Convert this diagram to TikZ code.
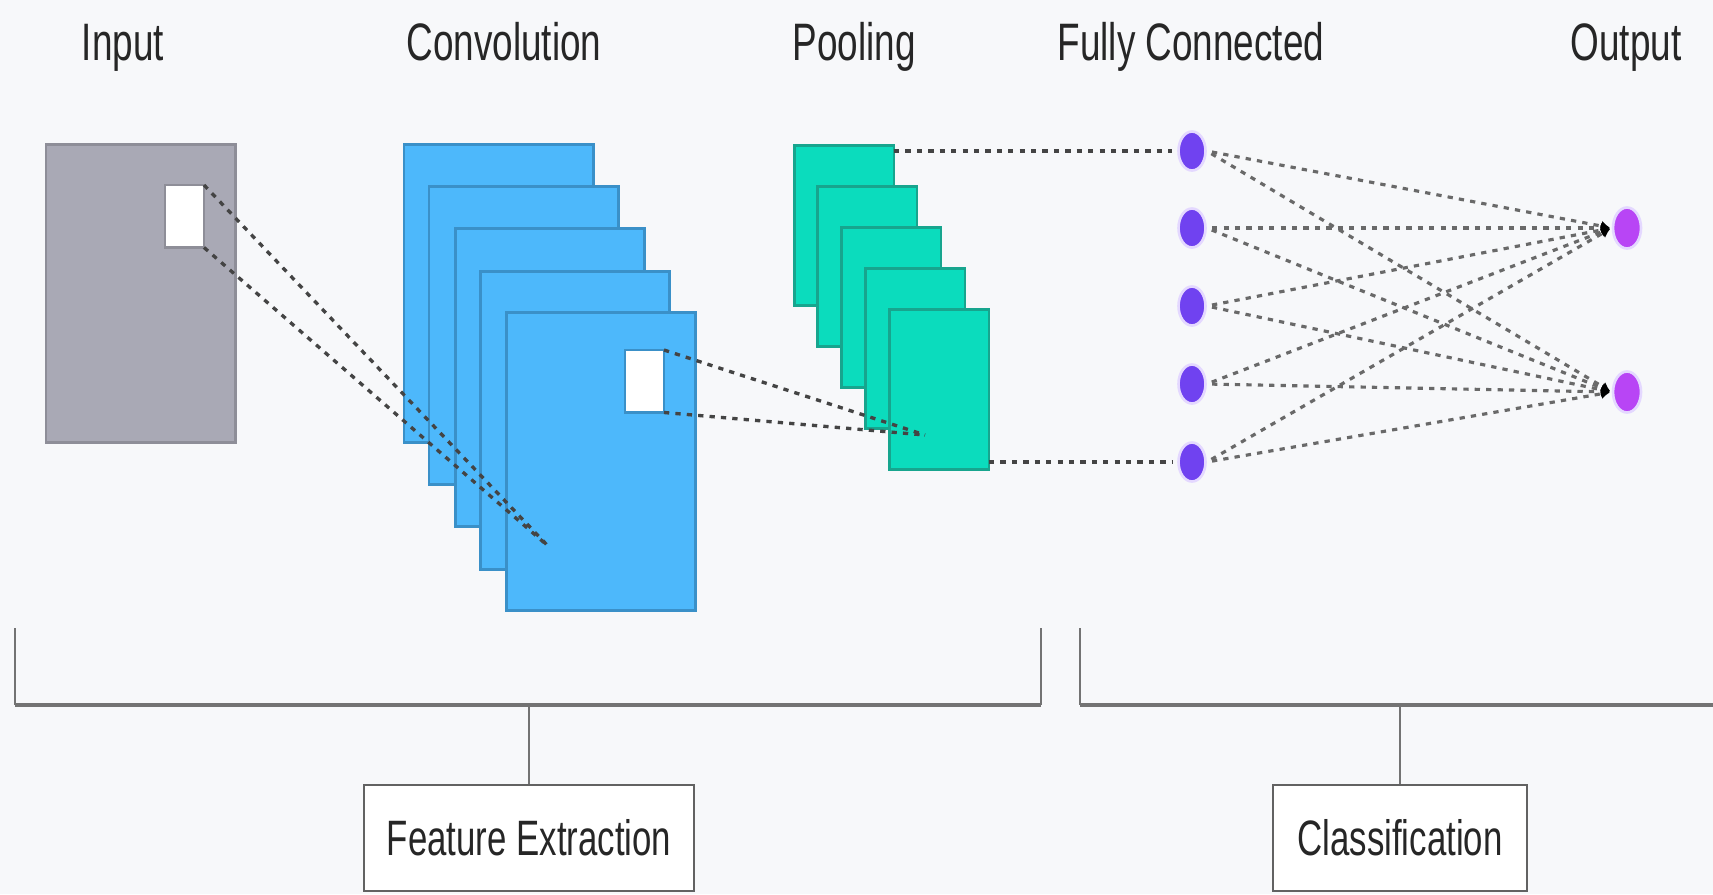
\documentclass[tikz,border=0pt]{standalone}
\usepackage{fontspec}
\setmainfont{Liberation Sans}
\usepackage{graphicx}
\usetikzlibrary{shapes.geometric,arrows.meta}
\newcommand\cond[1]{\scalebox{0.7}[1]{#1}}
\definecolor{bgc}{HTML}{F7F8FA}
\definecolor{ingray}{HTML}{A9A9B5}
\definecolor{ingrayd}{HTML}{8E8E98}
\definecolor{convf}{HTML}{4DB8FB}
\definecolor{convd}{HTML}{3A90C8}
\definecolor{poolf}{HTML}{0BDCBD}
\definecolor{poold}{HTML}{17A58E}
\definecolor{fcf}{HTML}{7042F0}
\definecolor{outf}{HTML}{B845F5}
\definecolor{halo}{HTML}{E4D8FF}
\definecolor{txt}{HTML}{262626}
\definecolor{dotc}{HTML}{444444}
\definecolor{brk}{HTML}{737373}
\begin{document}
\begin{tikzpicture}[x=0.02cm,y=-0.02cm,
  box/.style={rectangle,anchor=north west,inner sep=0pt,outer sep=0pt,line width=1.7pt},
  inbox/.style={box,fill=ingray,draw=ingrayd,minimum width=3.8cm,minimum height=5.98cm},
  winsq/.style={box,fill=white,draw=#1,line width=1.3pt,minimum width=0.78cm,minimum height=1.25cm},
  convbox/.style={box,fill=convf,draw=convd,minimum width=3.8cm,minimum height=5.98cm},
  poolbox/.style={box,fill=poolf,draw=poold,minimum width=2.0cm,minimum height=3.22cm},
  fcnode/.style={ellipse,fill=fcf,draw=halo,line width=1.5pt,minimum width=0.54cm,minimum height=0.78cm,inner sep=0pt},
  outnode/.style={ellipse,fill=outf,draw=halo,line width=1.5pt,minimum width=0.56cm,minimum height=0.82cm,inner sep=0pt},
  toplabel/.style={anchor=base,text=txt,font=\fontsize{30}{36}\selectfont,inner sep=0pt},
  labbox/.style={rectangle,fill=white,draw=brk!85!black,line width=1.5pt,text=txt,font=\fontsize{28.3}{34}\selectfont,inner sep=0pt,minimum height=2.12cm},
  dotline/.style={draw=dotc,line width=1.9pt,dash pattern=on 3pt off 3.5pt},
  fcline/.style={draw=dotc!80,line width=1.8pt,dash pattern=on 3pt off 3.5pt,shorten <=3pt,shorten >=1pt,-{Latex[length=5pt,width=6pt,color=black]}},
  brkline/.style={draw=brk,line width=1.1pt},
  brkbar/.style={draw=brk,line width=2.4pt}
]
\useasboundingbox (0,0) rectangle (1713,894);
\fill[bgc] (0,0) rectangle (1713,894);

% top labels
\node[toplabel] (lin) at (123,60) {\cond{Input}};
\node[toplabel] (lconv) at (504,60) {\cond{Convolution}};
\node[toplabel] (lpool) at (854,60) {\cond{Pooling}};
\node[toplabel] (lfc) at (1191,60) {\cond{Fully Connected}};
\node[toplabel] (lout) at (1626,60) {\cond{Output}};

% input
\node[inbox] (in) at (46,144) {};
\node[winsq=ingrayd] (insq) at (165,185) {};

% convolution stack
\node[convbox] (cv1) at (404,144) {};
\node[convbox] (cv2) at (429,186) {};
\node[convbox] (cv3) at (455,228) {};
\node[convbox] (cv4) at (480,271) {};
\node[convbox] (cv5) at (506,312) {};
\node[winsq=convd] (cvsq) at (625,350) {};

% pooling stack
\node[poolbox] (p1) at (794,145) {};
\node[poolbox] (p2) at (817,186) {};
\node[poolbox] (p3) at (841,227) {};
\node[poolbox] (p4) at (865,268) {};
\node[poolbox] (p5) at (889,309) {};

% fully connected and output nodes
\node[fcnode] (fc1) at (1192,151) {};
\node[fcnode] (fc2) at (1192,228) {};
\node[fcnode] (fc3) at (1192,306) {};
\node[fcnode] (fc4) at (1192,384) {};
\node[fcnode] (fc5) at (1192,462) {};
\node[outnode] (out1) at (1627,228) {};
\node[outnode] (out2) at (1627,392) {};

% receptive field lines
\coordinate (cfocus) at (548,546);
\coordinate (pfocus) at (925,435);
\draw[dotline] (insq.north east) -- (cfocus);
\draw[dotline] (insq.south east) -- (cfocus);
\draw[dotline] (cvsq.north east) -- (pfocus);
\draw[dotline] (cvsq.south east) -- (pfocus);

% pooling to fully connected
\draw[dotline,shorten >=3pt] (fc1.west -| p1.east) -- (fc1.west);
\draw[dotline,shorten >=3pt] (fc5.west -| p5.east) -- (fc5.west);

% fully connected to output
\foreach \i in {1,...,5}{
  \foreach \j in {1,2}{
    \draw[fcline] (fc\i.east) -- (out\j.west);
  }
}

% brackets
\coordinate (lbA) at (15,628);
\coordinate (lbB) at (15,705);
\coordinate (lbC) at (1041,705);
\coordinate (lbD) at (1041,628);
\coordinate (lbM) at (529,705);
\coordinate (rbA) at (1080,628);
\coordinate (rbB) at (1080,705);
\coordinate (rbC) at (1713,705);
\coordinate (rbM) at (1400,705);
\draw[brkline] (lbA) -- (lbB);
\draw[brkline] (lbD) -- (lbC);
\draw[brkline] (rbA) -- (rbB);
\draw[brkbar] (lbB) -- (lbC);
\draw[brkbar] (rbB) -- (rbC);

% section boxes
\node[labbox,minimum width=6.6cm] (fe) at (529,838) {\cond{Feature Extraction}};
\node[labbox,minimum width=5.08cm] (cls) at (1400,838) {\cond{Classification}};
\draw[brkline] (lbM) -- (fe.north);
\draw[brkline] (rbM) -- (cls.north);
\end{tikzpicture}
\end{document}
